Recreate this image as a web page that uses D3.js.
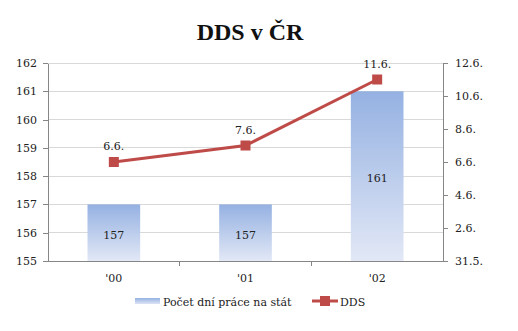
<!DOCTYPE html>
<html>
<head>
<meta charset="utf-8">
<script src="https://cdn.jsdelivr.net/npm/d3@7"></script>
<style>
  html, body { margin: 0; padding: 0; background: #fff; }
  svg { display: block; }
</style>
</head>
<body>
<script>
// Tax freedom day (DDS) and number of days worked for the state
const categories = ["'00", "'01", "'02"];
const workDays = [157, 157, 161];
const ddsDates = ["6.6.", "7.6.", "11.6."];
const leftTicks = [155, 156, 157, 158, 159, 160, 161, 162];
const rightTicks = ["31.5.", "2.6.", "4.6.", "6.6.", "8.6.", "10.6.", "12.6."];
const seriesNames = ["Počet dní práce na stát", "DDS"];

const W = 518, H = 331;
const m = { left: 48, right: 75, top: 63, bottom: 70 };
const pw = W - m.left - m.right, ph = H - m.top - m.bottom;
const FONT = "DejaVu Serif";
const FS = 11;

const parseDM = s => { const [d, mo] = s.split(".").map(Number); return new Date(2000, mo - 1, d); };

const svg = d3.select("body").append("svg").attr("width", W).attr("height", H);

const defs = svg.append("defs");
const grad = defs.append("linearGradient").attr("id", "barGrad")
  .attr("x1", 0).attr("y1", 0).attr("x2", 0).attr("y2", 1);
grad.append("stop").attr("offset", "0%").attr("stop-color", "#95b1e2");
grad.append("stop").attr("offset", "100%").attr("stop-color", "#e2e8f6");
const gradH = defs.append("linearGradient").attr("id", "legGrad")
  .attr("x1", 0).attr("y1", 0).attr("x2", 0).attr("y2", 1);
gradH.append("stop").attr("offset", "0%").attr("stop-color", "#95b1e2");
gradH.append("stop").attr("offset", "100%").attr("stop-color", "#dde5f5");

svg.append("text").attr("x", 250).attr("y", 40).attr("text-anchor", "middle")
  .attr("font-family", "Liberation Serif")
  .attr("font-size", 24).attr("font-weight", "bold").attr("fill", "#111")
  .text("DDS v ČR");

const g = svg.append("g").attr("transform", `translate(${m.left},${m.top})`);

const x = d3.scaleBand().domain(categories).range([0, pw]).paddingInner(0).paddingOuter(0);
const y = d3.scaleLinear().domain([155, 162]).range([ph, 0]);
const y2 = d3.scaleTime().domain([parseDM(rightTicks[0]), parseDM(rightTicks[rightTicks.length - 1])]).range([ph, 0]);

// gridlines
g.append("g").selectAll("line").data(leftTicks.slice(1)).join("line")
  .attr("x1", 0).attr("x2", pw).attr("y1", d => y(d)).attr("y2", d => y(d))
  .attr("stroke", "#d9d9d9").attr("stroke-width", 1).attr("shape-rendering", "crispEdges");

// bars
const bw = x.bandwidth() * 0.4;
g.append("g").selectAll("rect").data(workDays).join("rect")
  .attr("x", (d, i) => x(categories[i]) + (x.bandwidth() - bw) / 2)
  .attr("width", bw)
  .attr("y", d => y(d)).attr("height", d => ph - y(d))
  .attr("fill", "url(#barGrad)");

g.append("g").selectAll("text").data(workDays).join("text")
  .attr("x", (d, i) => x(categories[i]) + x.bandwidth() / 2)
  .attr("y", d => (y(d) + ph) / 2 + 6)
  .attr("text-anchor", "middle").attr("font-family", FONT).attr("font-size", FS).attr("fill", "#222")
  .text(d => d);

// axes
const axisColor = "#868686";
const left = g.append("g").call(d3.axisLeft(y).tickValues(leftTicks).tickFormat(d3.format("d")).tickSize(5).tickSizeOuter(0).tickPadding(6));
const right = g.append("g").attr("transform", `translate(${pw},0)`)
  .call(d3.axisRight(y2).tickValues(rightTicks.map(parseDM)).tickFormat((d, i) => rightTicks[i]).tickSize(5).tickSizeOuter(0).tickPadding(7));
const bottom = g.append("g").attr("transform", `translate(0,${ph})`)
  .call(d3.axisBottom(x).tickSize(0).tickPadding(13));
// boundary ticks between categories
g.append("g").selectAll("line").data(categories.slice(1)).join("line")
  .attr("x1", d => x(d)).attr("x2", d => x(d)).attr("y1", ph).attr("y2", ph + 5)
  .attr("stroke", axisColor).attr("shape-rendering", "crispEdges");
[left, right, bottom].forEach(a => {
  a.attr("font-family", FONT).attr("font-size", FS);
  a.selectAll("path, line").attr("stroke", axisColor).attr("shape-rendering", "crispEdges");
  a.selectAll("text").attr("fill", "#222");
});

// DDS line
const lineColor = "#be4b48";
const pts = ddsDates.map((s, i) => [x(categories[i]) + x.bandwidth() / 2, y2(parseDM(s))]);
g.append("path").datum(pts).attr("d", d3.line()).attr("fill", "none")
  .attr("stroke", lineColor).attr("stroke-width", 3);
g.append("g").selectAll("rect").data(pts).join("rect")
  .attr("x", d => d[0] - 5).attr("y", d => d[1] - 5).attr("width", 10).attr("height", 10)
  .attr("fill", lineColor);
g.append("g").selectAll("text").data(pts).join("text")
  .attr("x", d => d[0]).attr("y", d => d[1] - 12)
  .attr("text-anchor", "middle").attr("font-family", FONT).attr("font-size", FS).attr("fill", "#222")
  .text((d, i) => ddsDates[i]);

// legend
const leg = svg.append("g").attr("transform", "translate(0,302)");
leg.append("rect").attr("x", 135).attr("y", -4).attr("width", 25).attr("height", 6).attr("fill", "url(#legGrad)");
leg.append("text").attr("x", 163).attr("y", 4).attr("font-family", FONT).attr("font-size", 11).attr("fill", "#222").text(seriesNames[0]);
leg.append("line").attr("x1", 312).attr("x2", 338).attr("y1", -1).attr("y2", -1).attr("stroke", lineColor).attr("stroke-width", 3);
leg.append("rect").attr("x", 320).attr("y", -6).attr("width", 10).attr("height", 10).attr("fill", lineColor);
leg.append("text").attr("x", 340).attr("y", 4).attr("font-family", FONT).attr("font-size", 11).attr("fill", "#222").text(seriesNames[1]);
</script>
</body>
</html>
